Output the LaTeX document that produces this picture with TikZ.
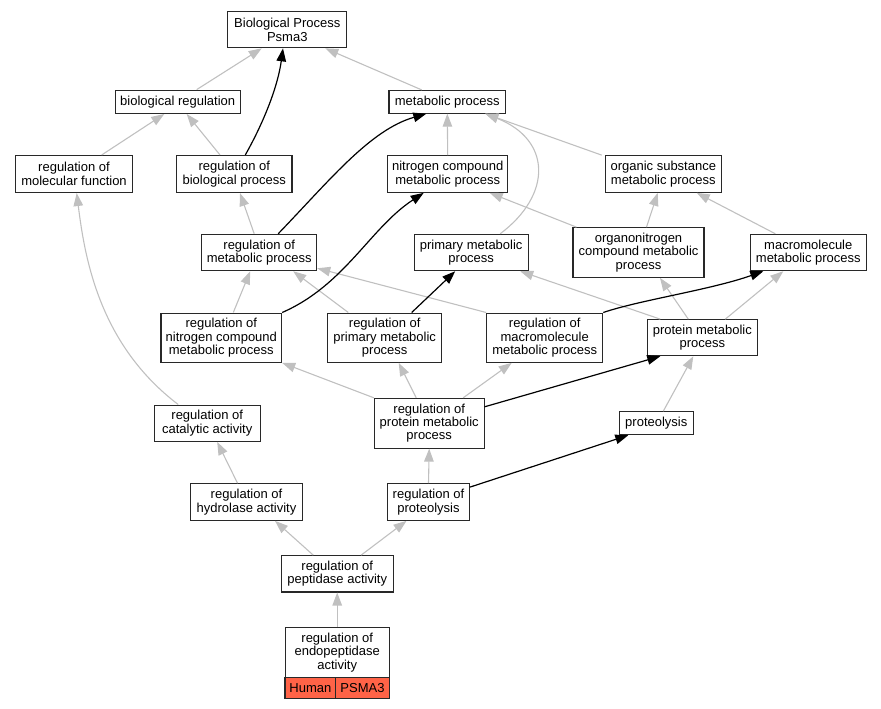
\documentclass[tikz,border=0pt]{standalone}
\usepackage{fontspec}
\setmainfont{Liberation Sans}
\usetikzlibrary{arrows.meta}
\definecolor{edgegray}{RGB}{192,192,192}
\definecolor{cellred}{RGB}{255,99,71}
\definecolor{boxline}{RGB}{40,40,40}
\begin{document}
\begin{tikzpicture}[x=1pt,y=-1pt,
  box/.style={draw=boxline,line width=1.1pt,fill=white,inner sep=0pt,align=center,
    font=\fontsize{13}{13.3}\selectfont},
  cell/.style={box,fill=cellred},
  gedge/.style={draw=edgegray,line width=1.1pt,-{Triangle[length=13pt,width=9.5pt]}},
  bedge/.style={draw=black,line width=1.2pt,-{Triangle[length=13pt,width=9.5pt]}}]
\useasboundingbox (0,0) rectangle (881,709);
% nodes
\node[box,minimum width=119pt,minimum height=36pt] (bp) at (287.3,29.8) {Biological Process\\Psma3};
\node[box,minimum width=124.7pt,minimum height=23.3pt] (br) at (177.7,101.8) {biological regulation};
\node[box,minimum width=116.7pt,minimum height=22.7pt] (mp) at (447.3,101.8) {metabolic process};
\node[box,minimum width=116.6pt,minimum height=37pt] (rmf) at (74,174) {regulation of\\molecular function};
\node[box,minimum width=115.3pt,minimum height=37pt] (rbp) at (234.3,174) {regulation of\\biological process};
\node[box,minimum width=120pt,minimum height=36.6pt] (ncmp) at (447.7,174) {nitrogen compound\\metabolic process};
\node[box,minimum width=116pt,minimum height=36.6pt] (osmp) at (663.3,174) {organic substance\\metabolic process};
\node[box,minimum width=115pt,minimum height=36.4pt] (rmp) at (259.2,252.5) {regulation of\\metabolic process};
\node[box,minimum width=113.7pt,minimum height=36.4pt] (pmp) at (471.2,252.5) {primary metabolic\\process};
\node[box,minimum width=131pt,minimum height=49.6pt] (ocmp) at (638.5,252.5) {organonitrogen\\compound metabolic\\process};
\node[box,minimum width=116pt,minimum height=36.4pt] (mmp) at (808.3,252.5) {macromolecule\\metabolic process};
\node[box,minimum width=120.7pt,minimum height=49.3pt] (rncmp) at (221.3,337.7) {regulation of\\nitrogen compound\\metabolic process};
\node[box,minimum width=114pt,minimum height=49.3pt] (rpmp) at (384.7,337.7) {regulation of\\primary metabolic\\process};
\node[box,minimum width=116pt,minimum height=49.3pt] (rmmp) at (544.7,337.7) {regulation of\\macromolecule\\metabolic process};
\node[box,minimum width=110pt,minimum height=36pt] (prmp) at (702.3,337.7) {protein metabolic\\process};
\node[box,minimum width=105.7pt,minimum height=36.3pt] (rca) at (207.2,423.2) {regulation of\\catalytic activity};
\node[box,minimum width=109.7pt,minimum height=49.7pt] (rprmp) at (429.2,423.2) {regulation of\\protein metabolic\\process};
\node[box,minimum width=74pt,minimum height=23pt] (prot) at (656.3,423.2) {proteolysis};
\node[box,minimum width=112.4pt,minimum height=36.6pt] (rha) at (246.5,502) {regulation of\\hydrolase activity};
\node[box,minimum width=81.6pt,minimum height=36.6pt] (rprot) at (428.5,502) {regulation of\\proteolysis};
\node[box,minimum width=112.3pt,minimum height=36.3pt] (rpa) at (337.2,573.8) {regulation of\\peptidase activity};
\node[box,minimum width=104.3pt,minimum height=49.6pt] (rea) at (337.2,652.5) {regulation of\\endopeptidase\\activity};
\node[cell,minimum width=50.7pt,minimum height=21.4pt] (human) at (310.35,688) {Human};
\node[cell,minimum width=53.6pt,minimum height=21.4pt] (psma) at (362.5,688) {PSMA3};
% gray edges
\draw[gedge] ([xshift=19pt]br.north) -- ([xshift=-25.6pt]bp.south);
\draw[gedge] ([xshift=-25.6pt]mp.north) -- ([xshift=38pt]bp.south);
\draw[gedge] ([xshift=27.7pt]rmf.north) -- ([xshift=-13.4pt]br.south);
\draw[gedge] ([xshift=-14.3pt]rbp.north) -- ([xshift=9pt]br.south);
\draw[gedge] ([xshift=-5pt]rmp.north) -- ([xshift=5.7pt]rbp.south);
\draw[gedge] (ncmp.north) -- (mp.south);
\draw[gedge] ([xshift=-3pt]osmp.north west) -- ([xshift=38pt]mp.south);
\draw[gedge] ([xshift=29pt]pmp.north) .. controls (552,195) and (552,140) .. ([xshift=38pt]mp.south);
\draw[gedge] ([xshift=4pt]ocmp.north west) -- ([xshift=42pt]ncmp.south);
\draw[gedge] ([xshift=8pt]ocmp.north) -- ([xshift=-5.6pt]osmp.south);
\draw[gedge] ([xshift=-33pt]mmp.north) -- ([xshift=33.4pt]osmp.south);
\draw[gedge] ([xshift=12pt]rncmp.north) -- ([xshift=-9pt]rmp.south);
\draw[gedge] ([xshift=-36.4pt]rpmp.north) -- ([xshift=34pt]rmp.south);
\draw[gedge] (rmmp.north west) -- ([yshift=3pt]rmp.south east);
\draw[gedge] ([xshift=-42pt]prmp.north) -- ([xshift=49pt]pmp.south);
\draw[gedge] ([xshift=-14pt]prmp.north) -- ([xshift=21.5pt]ocmp.south);
\draw[gedge] ([xshift=23pt]prmp.north) -- ([xshift=-25pt]mmp.south);
\draw[gedge] ([xshift=-29pt]rca.north) .. controls (100,345) and (85,260) .. ([xshift=2.7pt]rmf.south);
\draw[gedge] (rprmp.north west) -- (rncmp.south east);
\draw[gedge] ([xshift=-13pt]rprmp.north) -- ([xshift=14pt]rpmp.south);
\draw[gedge] ([xshift=34pt]rprmp.north) -- ([xshift=-33pt]rmmp.south);
\draw[gedge] ([xshift=7pt]prot.north) -- ([xshift=-9pt]prmp.south);
\draw[gedge] ([xshift=-9pt]rha.north) -- ([xshift=10pt]rca.south);
\draw[gedge] (rprot.north) -- (rprmp.south);
\draw[gedge] ([xshift=-24pt]rpa.north) -- ([xshift=28.5pt]rha.south);
\draw[gedge] ([xshift=24pt]rpa.north) -- ([xshift=-22pt]rprot.south);
\draw[gedge] (rea.north) -- (rpa.south);
% black edges
\draw[bedge] ([xshift=11pt]rbp.north) .. controls (265,120) and (278,85) .. ([xshift=-4.3pt]bp.south);
\draw[bedge] ([xshift=19pt]rmp.north) .. controls (330,180) and (370,130) .. ([xshift=-21pt]mp.south);
\draw[bedge] (rncmp.north east) .. controls (345,285) and (370,228) .. ([xshift=-24pt]ncmp.south);
\draw[bedge] ([xshift=27pt]rpmp.north) -- ([xshift=-16pt]pmp.south);
\draw[bedge] (rmmp.north east) .. controls (640,300) and (710,290) .. ([xshift=-45pt]mmp.south);
\draw[bedge] ([yshift=-9pt]rprmp.north east) -- ([xshift=-42pt]prmp.south);
\draw[bedge] ([yshift=-4pt]rprot.north east) -- ([xshift=-28pt]prot.south);
\end{tikzpicture}
\end{document}
